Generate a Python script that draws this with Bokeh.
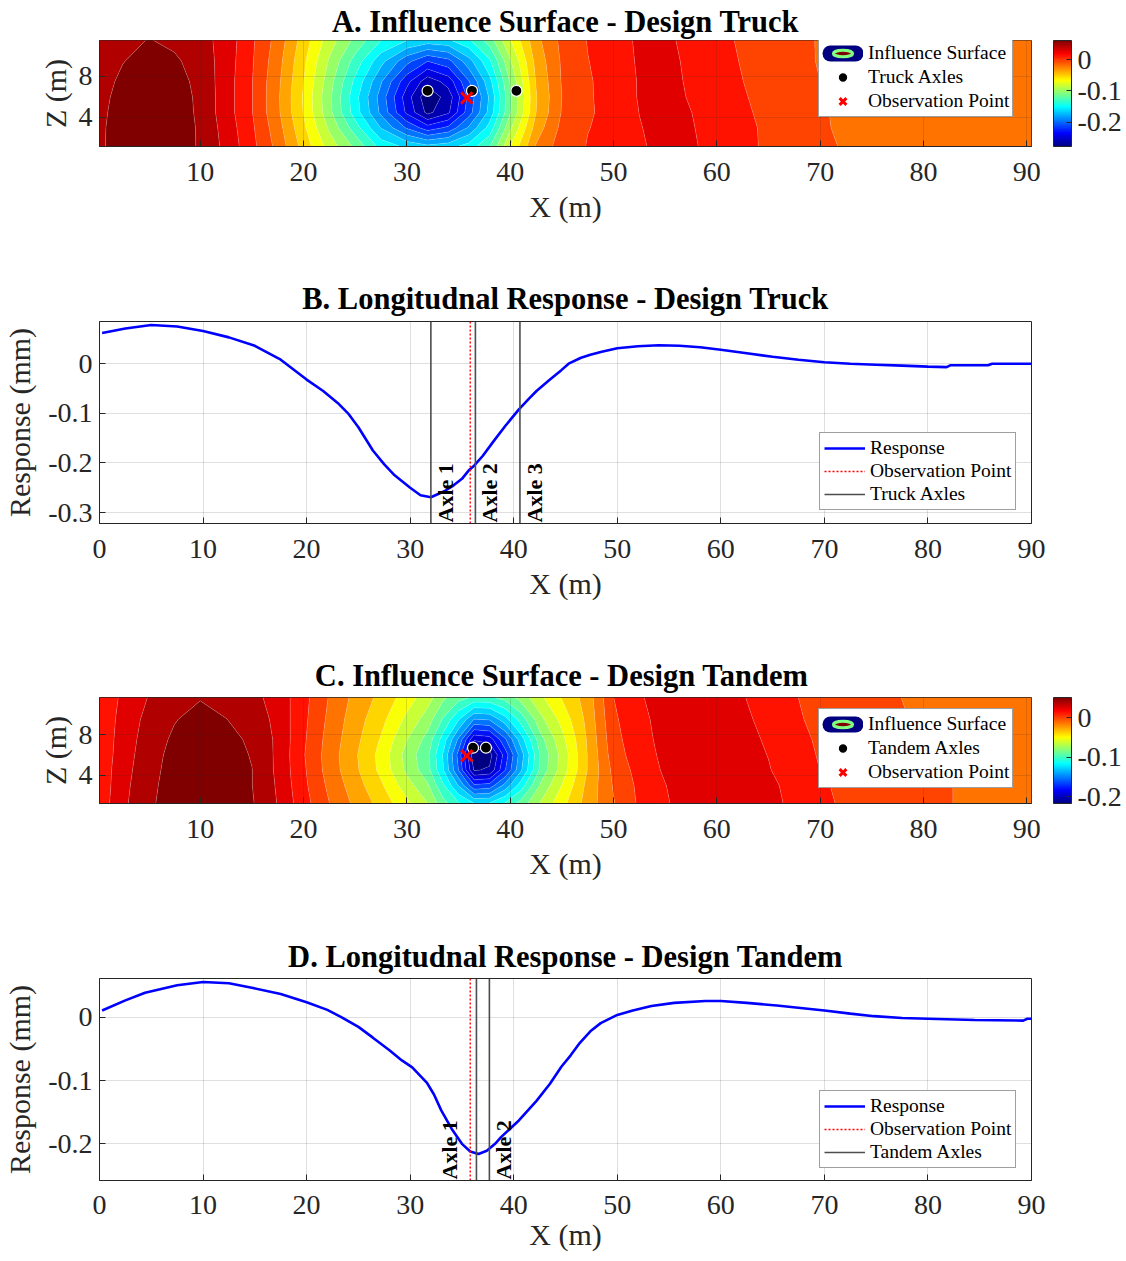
import numpy as np
from bokeh.plotting import figure
from bokeh.models import (Range1d, FixedTicker, ColorBar, LinearColorMapper,
                          Legend, LegendItem, Label)
from bokeh.layouts import column
from bokeh.embed import file_html
from bokeh.resources import INLINE

# ============================ DATA ============================
# Influence surfaces: grid rows = Z (m), columns = X (m); values in mm
SURF_Z = [1.17, 3.0, 4.5, 6.0, 7.5, 9.5, 11.65]

A_X = [0.25, 2.5, 5, 7.5, 10, 12.5, 15, 17.5, 20, 22.5, 25, 27.5, 30, 32, 34, 36, 38,
       40, 42.5, 45, 47.5, 50, 52.5, 55, 57.5, 60, 65, 70, 75, 80, 90.45]
A_W = [
    [.042, .056, .060, .058, .043, .026, .004, -.021, -.053, -.084, -.112, -.145, -.158, -.165, -.160, -.148, -.125, -.078, -.030, -.008, .000, .002, .013, .019, .017, .009, -.003, -.014, -.020, -.021, -.021],
    [.042, .055, .059, .057, .043, .024, .002, -.025, -.059, -.096, -.132, -.171, -.203, -.225, -.213, -.183, -.149, -.096, -.040, -.012, -.001, .0025, .014, .020, .016, .008, -.003, -.015, -.020, -.021, -.021],
    [.041, .054, .058, .056, .042, .022, .000, -.0285, -.063, -.104, -.147, -.189, -.235, -.267, -.250, -.208, -.165, -.110, -.047, -.015, -.002, .003, .015, .021, .015, .007, -.004, -.015, -.021, -.022, -.022],
    [.040, .052, .057, .054, .042, .022, .000, -.029, -.064, -.105, -.149, -.192, -.240, -.274, -.256, -.212, -.168, -.112, -.048, -.016, -.002, .004, .016, .022, .013, .006, -.005, -.016, -.021, -.022, -.022],
    [.039, .049, .055, .052, .041, .022, .000, -.028, -.062, -.102, -.143, -.184, -.227, -.257, -.241, -.202, -.160, -.107, -.046, -.015, -.002, .0045, .016, .021, .012, .005, -.006, -.016, -.021, -.022, -.022],
    [.037, .045, .051, .048, .039, .023, .001, -.0255, -.059, -.095, -.130, -.165, -.196, -.216, -.206, -.176, -.142, -.095, -.042, -.014, -.001, .005, .017, .020, .011, .004, -.007, -.017, -.021, -.022, -.022],
    [.034, .040, .046, .042, .036, .024, .002, -.022, -.054, -.085, -.112, -.138, -.152, -.158, -.155, -.140, -.115, -.078, -.036, -.012, .000, .006, .018, .018, .010, .003, -.008, -.017, -.021, -.022, -.022],
]
A_RANGE = (-0.278, 0.061)

C_X = [0.25, 2.5, 5, 7.5, 10, 12.5, 15, 17.5, 20, 22.5, 25, 27.5, 30, 32, 33.5, 35, 36.5,
       38, 39.5, 41, 43, 45, 47.5, 50, 52.5, 55, 57.5, 60, 65, 70, 75, 80, 85, 90.45]
C_W = [
    [.008, .025, .037, .047, .051, .048, .041, .027, .008, -.009, -.024, -.038, -.055, -.070, -.090, -.105, -.118, -.117, -.105, -.090, -.068, -.050, -.028, -.010, .005, .014, .021, .024, .019, .006, -.004, -.008, -.010, -.012],
    [.007, .024, .036, .046, .050, .047, .040, .026, .006, -.012, -.028, -.044, -.065, -.081, -.105, -.1325, -.166, -.1635, -.140, -.114, -.080, -.058, -.030, -.008, .006, .015, .022, .024, .018, .005, -.005, -.008, -.010, -.012],
    [.007, .023, .035, .045, .049, .046, .040, .025, .005, -.0145, -.031, -.049, -.073, -.090, -.118, -.156, -.206, -.203, -.169, -.134, -.090, -.065, -.033, -.006, .008, .017, .022, .024, .016, .003, -.005, -.009, -.011, -.013],
    [.006, .022, .034, .044, .048, .045, .039, .025, .004, -.015, -.032, -.050, -.075, -.092, -.120, -.160, -.214, -.210, -.175, -.138, -.092, -.066, -.033, -.003, .010, .018, .023, .024, .015, .002, -.006, -.009, -.011, -.013],
    [.006, .021, .033, .042, .047, .043, .038, .025, .005, -.014, -.030, -.047, -.070, -.087, -.112, -.146, -.191, -.187, -.158, -.126, -.086, -.062, -.032, -.001, .011, .019, .023, .023, .014, .001, -.007, -.009, -.011, -.013],
    [.005, .020, .031, .039, .044, .040, .035, .024, .006, -.012, -.028, -.042, -.061, -.076, -.096, -.118, -.144, -.142, -.124, -.102, -.073, -.054, -.030, .001, .012, .020, .024, .023, .012, -.001, -.007, -.010, -.012, -.013],
    [.004, .018, .028, .034, .039, .035, .031, .023, .007, -.010, -.025, -.037, -.052, -.065, -.080, -.090, -.097, -.097, -.090, -.078, -.060, -.045, -.028, .003, .014, .021, .024, .022, .010, -.002, -.008, -.010, -.012, -.014],
]
C_RANGE = (-0.217, 0.052)

TRUCK_AXLES_X = [32.0, 36.3, 40.6]
TRUCK_AXLES_Z = [6.6, 6.6, 6.6]
TANDEM_AXLES_X = [36.4, 37.65]
TANDEM_AXLES_Z = [6.7, 6.7]
OBS_X = [35.8]
OBS_Z = [5.9]

# Longitudinal responses (mm)
B_X = [0.25, 2.5, 5, 7.5, 10, 12.5, 15, 17.5, 20, 21.6, 23, 24, 25, 26.4, 27.5, 28.5, 30, 31, 32,
       33.3, 34.2, 35, 35.7, 36.2, 37, 38.1, 39.2, 40.5, 41.5, 42.2, 43.5, 44.6, 45.3, 46.5, 47.4,
       48.5, 50, 52, 54, 56, 58, 60, 62.5, 65, 67.5, 70, 72.5, 75, 77.5, 80, 81.8, 82.2, 85.8, 86.2, 90]
B_V = [0.062, 0.071, 0.078, 0.075, 0.066, 0.053, 0.036, 0.008, -0.032, -0.055, -0.079, -0.100,
       -0.128, -0.175, -0.203, -0.225, -0.250, -0.265, -0.269, -0.257, -0.245, -0.232, -0.214,
       -0.205, -0.186, -0.155, -0.125, -0.092, -0.070, -0.055, -0.032, -0.013, 0.000, 0.012, 0.018,
       0.024, 0.031, 0.035, 0.037, 0.036, 0.033, 0.028, 0.021, 0.014, 0.008, 0.003, 0.000, -0.002,
       -0.004, -0.006, -0.007, -0.003, -0.003, 0.000, 0.000]

D_X = [0.25, 2.5, 4.4, 7.5, 10, 12.5, 14.7, 17.5, 20, 22, 23.3, 25, 26.4, 28, 29.2, 30.2, 31.6,
       32.3, 33, 34, 35, 35.8, 36.6, 37.4, 38.2, 38.8, 40.5, 42.2, 43.5, 44.6, 45.5, 46.3, 47.4,
       48.4, 50, 51.5, 53.3, 55.5, 58.5, 60, 62.5, 65.4, 70, 72.5, 74.8, 77.5, 80, 84.5, 89.2, 89.6, 90]
D_V = [0.011, 0.027, 0.039, 0.051, 0.056, 0.054, 0.047, 0.037, 0.024, 0.012, 0.001, -0.015,
       -0.032, -0.052, -0.068, -0.079, -0.103, -0.122, -0.147, -0.176, -0.200, -0.212, -0.216,
       -0.211, -0.200, -0.189, -0.163, -0.132, -0.105, -0.078, -0.060, -0.042, -0.022, -0.009,
       0.004, 0.011, 0.018, 0.023, 0.026, 0.026, 0.023, 0.019, 0.011, 0.006, 0.002, -0.001,
       -0.002, -0.004, -0.005, -0.002, -0.002]

X_TICKS_SURF = [10, 20, 30, 40, 50, 60, 70, 80, 90]
X_TICKS_LINE = [0, 10, 20, 30, 40, 50, 60, 70, 80, 90]
Z_TICKS = [4, 8]
CB_TICKS = [-0.2, -0.1, 0]
B_TICKS = [-0.3, -0.2, -0.1, 0]
D_TICKS = [-0.2, -0.1, 0]
TICK_TEXT = {-0.3: "-0.3", -0.2: "-0.2", -0.1: "-0.1", 0: "0"}

# ============================ STYLE ============================
FONT = "Liberation Serif"
AX_COLOR = "#262626"
N_BANDS = 22


def jet(f):
    r = min(max(1.5 - abs(4 * f - 3), 0.0), 1.0)
    g = min(max(1.5 - abs(4 * f - 2), 0.0), 1.0)
    b = min(max(1.5 - abs(4 * f - 1), 0.0), 1.0)
    return "#%02x%02x%02x" % (int(round(r * 255)), int(round(g * 255)), int(round(b * 255)))


JET256 = [jet(i / 255) for i in range(256)]
BAND_COLORS = [jet(i / (N_BANDS - 1)) for i in range(N_BANDS)]


def base_fig(height, left, top, bottom, xr, yr, title, title_standoff):
    p = figure(width=1126, height=height, x_range=Range1d(*xr), y_range=Range1d(*yr),
               output_backend="svg", toolbar_location=None,
               min_border_left=left, min_border_right=95,
               min_border_top=top, min_border_bottom=bottom)
    p.outline_line_color = AX_COLOR
    p.outline_line_width = 1
    p.outline_line_alpha = 1
    p.title.text = title
    p.title.text_font = FONT
    p.title.text_font_size = "30.5px"
    p.title.text_font_style = "bold"
    p.title.text_color = "black"
    p.title.align = "center"
    p.title.standoff = title_standoff
    return p


def style_axis(ax, ticks, label, label_standoff, axis_standoff):
    ax.ticker = FixedTicker(ticks=ticks)
    ax.major_tick_in = 6
    ax.major_tick_out = 0
    ax.major_tick_line_color = AX_COLOR
    ax.minor_tick_line_color = None
    ax.axis_line_color = AX_COLOR
    ax.major_label_text_font = FONT
    ax.major_label_text_font_size = "28px"
    ax.major_label_text_color = AX_COLOR
    ax.major_label_standoff = label_standoff
    ax.major_label_overrides = {k: v for k, v in TICK_TEXT.items() if k in ticks}
    ax.axis_label = label
    ax.axis_label_text_font = FONT
    ax.axis_label_text_font_size = "30px"
    ax.axis_label_text_font_style = "normal"
    ax.axis_label_text_color = AX_COLOR
    ax.axis_label_standoff = axis_standoff
    return ax.ticker


def style_grid(p, xt, yt, level="underlay"):
    p.xgrid.ticker = xt
    p.ygrid.ticker = yt
    for g in (p.xgrid, p.ygrid):
        g.grid_line_color = AX_COLOR
        g.grid_line_alpha = 0.15
        g.grid_line_width = 1
        g.level = level


def style_legend(leg, row_h=22, spacing=1, padding=4):
    leg.label_text_font = FONT
    leg.label_text_font_size = "19.5px"
    leg.label_text_color = "black"
    leg.glyph_width = 41
    leg.glyph_height = row_h
    leg.label_height = row_h
    leg.spacing = spacing
    leg.padding = padding
    leg.label_standoff = 5
    leg.margin = 0
    leg.border_line_color = "#404040"
    leg.border_line_width = 1
    leg.background_fill_color = "white"
    leg.background_fill_alpha = 1


def surface_panel(title, height, top, bottom, yr, xs, ws, vrange, ax_x, ax_z, ax_name,
                  leg_loc, title_standoff):
    p = base_fig(height, 98, top, bottom, (0.25, 90.45), yr, title, title_standoff)
    levels = np.linspace(vrange[0], vrange[1], N_BANDS + 1)
    p.contour(x=xs, y=SURF_Z, z=np.array(ws), levels=levels, fill_color=BAND_COLORS,
              line_color="white", line_alpha=0.3, line_width=0.6)
    xt = style_axis(p.xaxis[0], X_TICKS_SURF, "X (m)", 16, 6)
    yt = style_axis(p.yaxis[0], Z_TICKS, "Z (m)", 7, 4)
    style_grid(p, xt, yt, level="guide")

    dots = p.scatter(ax_x, ax_z, marker="circle", size=11, fill_color="black",
                     line_color="white", line_width=1.2)
    obs = p.scatter(OBS_X, OBS_Z, marker="x", size=16, line_color="#FF0000", line_width=3)

    # legend icon for the surface (no data drawn)
    ring = p.line(x=np.array([np.nan]), y=np.array([np.nan]), line_color="#000080",
                  line_width=16, line_cap="round", line_dash="25 100", line_dash_offset=117)
    core = p.ellipse(x=np.array([np.nan]), y=np.array([np.nan]), width=30, height=10,
                     width_units="screen", height_units="screen", fill_color="#800000",
                     line_color="#80FF80", line_width=3)
    leg = Legend(items=[LegendItem(label="Influence Surface", renderers=[ring, core]),
                        LegendItem(label=ax_name, renderers=[dots]),
                        LegendItem(label="Observation Point", renderers=[obs])],
                 location=leg_loc)
    style_legend(leg, row_h=24, spacing=0, padding=3)
    p.add_layout(leg)

    mapper = LinearColorMapper(palette=JET256, low=vrange[0], high=vrange[1])
    cb = ColorBar(color_mapper=mapper, width=18, height=106, location=(22, 0),
                  padding=0, margin=0, ticker=FixedTicker(ticks=CB_TICKS),
                  major_label_overrides={k: v for k, v in TICK_TEXT.items() if k in CB_TICKS},
                  major_label_text_font=FONT, major_label_text_font_size="28px",
                  major_label_text_color=AX_COLOR, major_tick_in=5, major_tick_out=0,
                  major_tick_line_color=AX_COLOR, bar_line_color=AX_COLOR, label_standoff=6)
    p.add_layout(cb, "right")
    return p


def line_panel(title, height, top, bottom, yr, xs, vs, yticks, ax_x, ax_name, dx, leg_loc,
               x_std, x_lab_std, title_standoff):
    p = base_fig(height, 97, top, bottom, (0, 90), yr, title, title_standoff)
    xt = style_axis(p.xaxis[0], X_TICKS_LINE, "X (m)", x_std, x_lab_std)
    yt = style_axis(p.yaxis[0], yticks, "Response (mm)", 7, 9)
    style_grid(p, xt, yt)

    resp = p.line(xs, vs, line_color="#0000FF", line_width=2.6)
    obs = p.segment(x0=OBS_X, y0=[yr[0]], x1=OBS_X, y1=[yr[1]], line_color="#FF0000",
                    line_width=1.4, line_dash="2 2")
    axl = p.segment(x0=ax_x, y0=[yr[0]] * len(ax_x), x1=ax_x, y1=[yr[1]] * len(ax_x),
                    line_color="#4D4D4D", line_width=1.6)
    for i, ax in enumerate(ax_x):
        p.add_layout(Label(x=ax, y=yr[0], text="Axle %d" % (i + 1), angle=np.pi / 2,
                           text_align="left", text_baseline="top", x_offset=dx[i], y_offset=1,
                           text_font=FONT, text_font_style="bold", text_font_size="22px",
                           text_color="black"))
    leg = Legend(items=[LegendItem(label="Response", renderers=[resp]),
                        LegendItem(label="Observation Point", renderers=[obs]),
                        LegendItem(label=ax_name, renderers=[axl])],
                 location=leg_loc)
    style_legend(leg)
    p.add_layout(leg)
    return p


pA = surface_panel("A. Influence Surface - Design Truck", 260, 40, 114, (1.17, 11.51),
                   A_X, A_W, A_RANGE, TRUCK_AXLES_X, TRUCK_AXLES_Z, "Truck Axles", (719, 29), 4)
pB = line_panel("B. Longitudnal Response - Design Truck", 380, 61, 117, (-0.322, 0.085),
                B_X, B_V, B_TICKS, TRUCK_AXLES_X, "Truck Axles", [2, 2, 2], (720, 13), 16, 6, 11)
pC = surface_panel("C.  Influence Surface - Design Tandem", 280, 57, 117, (1.2, 11.65),
                   C_X, C_W, C_RANGE, TANDEM_AXLES_X, TANDEM_AXLES_Z, "Tandem Axles", (719, 15), 10)
pD = line_panel("D. Longitudnal Response - Design Tandem", 341, 58, 81, (-0.258, 0.0616),
                D_X, D_V, D_TICKS, TANDEM_AXLES_X, "Tandem Axles", [-39, 2], (720, 12), 15, 1, 10)

layout = column(pA, pB, pC, pD, spacing=0)
open("out.html", "w").write(file_html(layout, INLINE))
